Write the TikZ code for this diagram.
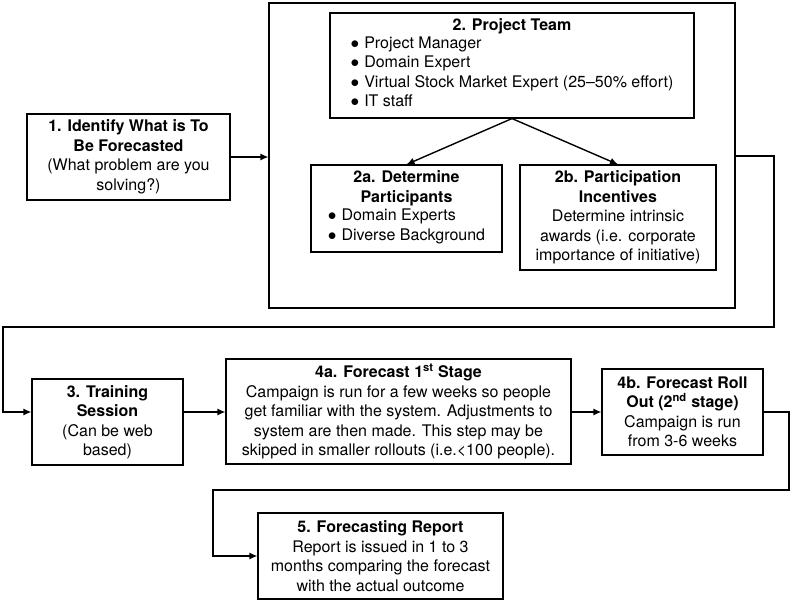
\documentclass[tikz,border=0pt]{standalone}
\usepackage{fontspec}
\setmainfont{TeX Gyre Heros}
\usetikzlibrary{arrows.meta, positioning, calc}

\newcommand{\blt}{$\bullet$\hspace{5pt}}

\begin{document}
\begin{tikzpicture}[
    x=1pt, y=-1pt,
    font=\fontsize{16}{19.5}\selectfont,
    box/.style={draw, line width=1.1pt, align=center, inner sep=2pt},
    arrow/.style={-{Latex[length=8pt,width=7pt]}, line width=1.4pt}
]
    \useasboundingbox (0,0) rectangle (792,600);

    % stage 1 and the team block
    \node[box, minimum width=203pt, minimum height=86pt] (ident) at (128.5,157) {\textbf{1. Identify What is To}\\\textbf{Be Forecasted}\\(What problem are you\\solving?)};
    \node[box, minimum width=466pt, minimum height=305pt] (teambox) at (502,155.5) {};
    \node[box, minimum width=364pt, minimum height=105pt] (team) at (512,65.5) {\textbf{2. Project Team}\\
        \begin{tabular}{@{}l@{}}
        \blt Project Manager\\
        \blt Domain Expert\\
        \blt Virtual Stock Market Expert (25--50\% effort)\\
        \blt IT staff
        \end{tabular}};
    \node[box, minimum width=191pt, minimum height=87pt] (part) at (406.5,208.5) {\textbf{2a. Determine}\\\textbf{Participants}\\
        \begin{tabular}{@{}l@{}}
        \blt Domain Experts\\
        \blt Diverse Background
        \end{tabular}};
    \node[box, minimum width=196pt, minimum height=105pt] (incent) at (618,217.5) {\textbf{2b. Participation}\\\textbf{Incentives}\\Determine intrinsic\\awards (i.e. corporate\\importance of initiative)};

    % lower rows
    \node[box, minimum width=151pt, minimum height=86pt] (train) at (107.5,422) {\textbf{3. Training}\\\textbf{Session}\\(Can be web\\based)};
    \node[box, minimum width=345pt, minimum height=105pt] (stage1) at (398.5,411.5) {\textbf{4a. Forecast 1\textsuperscript{st} Stage}\\Campaign is run for a few weeks so people\\get familiar with the system. Adjustments to\\system are then made. This step may be\\skipped in smaller rollouts (i.e.\textless100 people).};
    \node[box, minimum width=161pt, minimum height=86pt] (rollout) at (682.5,412) {\textbf{4b. Forecast Roll}\\\textbf{Out (2\textsuperscript{nd} stage)}\\Campaign is run\\from 3-6 weeks};
    \node[box, minimum width=245pt, minimum height=86pt] (report) at (380.5,556) {\textbf{5. Forecasting Report}\\Report is issued in 1 to 3\\months comparing the forecast\\with the actual outcome};

    % bends of the long connectors
    \coordinate (r1) at (774,156);
    \coordinate (r2) at (774,327);
    \coordinate (r3) at (3,327);
    \coordinate (s1) at (789,490);
    \coordinate (s2) at (213,490);

    \draw[arrow] (ident.east) -- (ident.east -| teambox.west);
    \draw[arrow] (team.south) -- (part.north);
    \draw[arrow] (team.south) -- (incent.north);
    \draw[arrow] (teambox.east |- r1) -- (r1) -- (r2) -- (r3) |- ([yshift=10pt]train.west);
    \draw[arrow] ([yshift=10pt]train.east) -- ([yshift=10pt]train.east -| stage1.west);
    \draw[arrow] (stage1.east |- rollout.west) -- (rollout.west);
    \draw[arrow] (rollout.east) -| (s1) -- (s2) |- (report.west);
\end{tikzpicture}
\end{document}
